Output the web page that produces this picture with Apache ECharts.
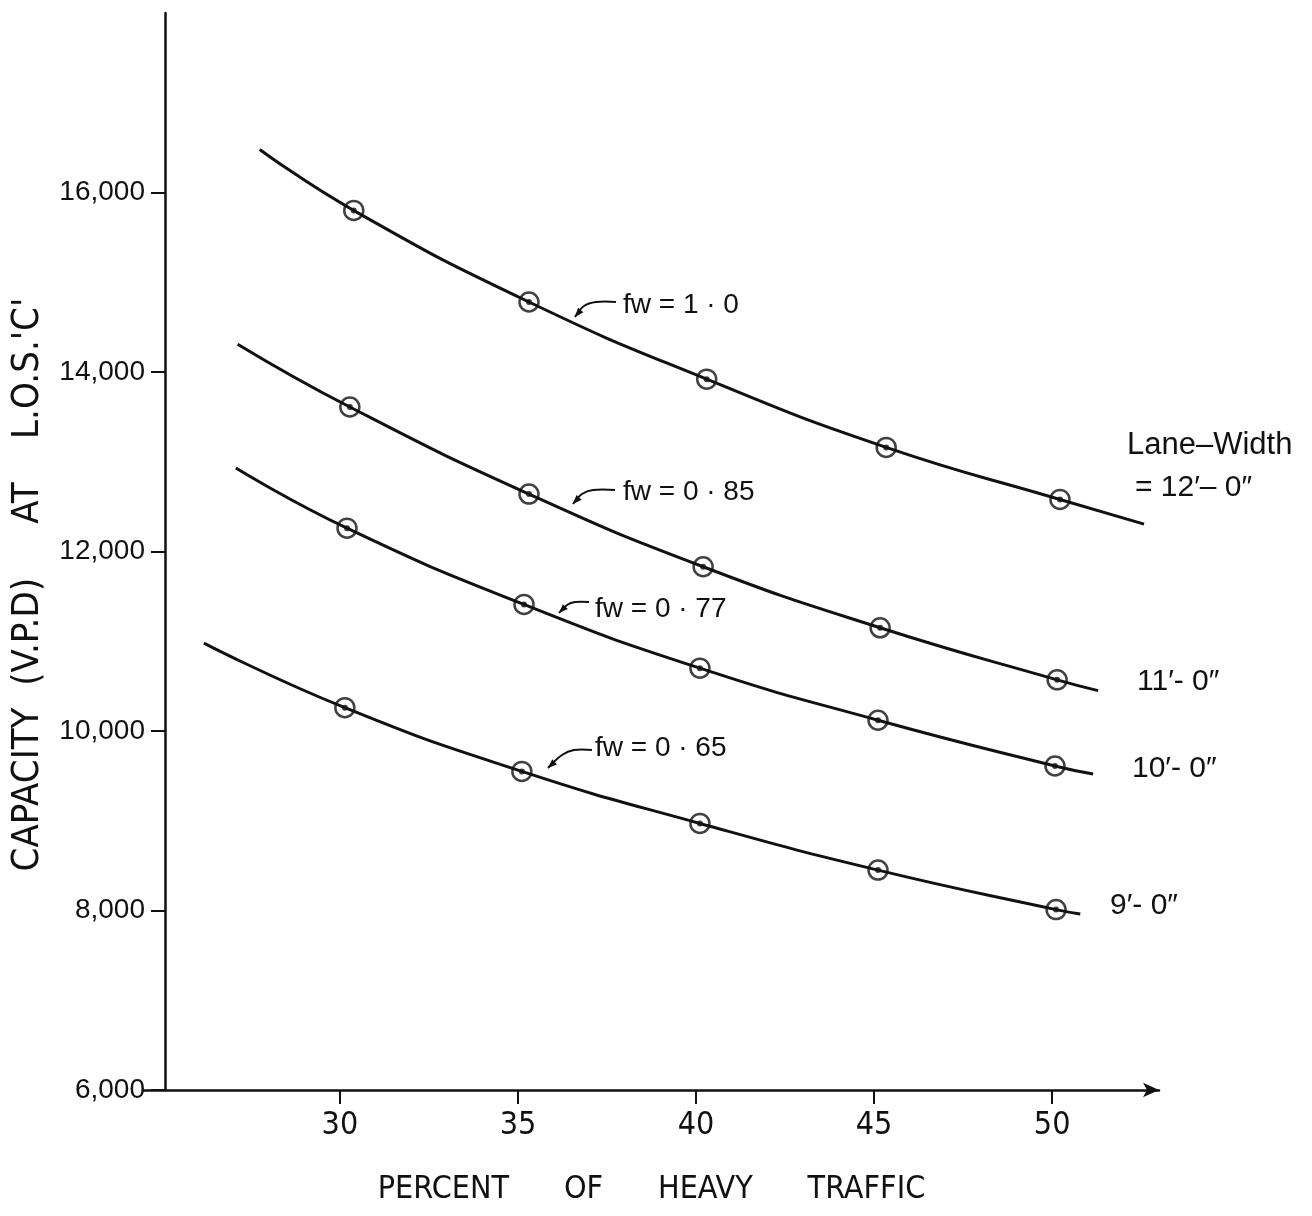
<!DOCTYPE html>
<html>
<head>
<meta charset="utf-8">
<script src="https://cdn.jsdelivr.net/npm/echarts@6/dist/echarts.min.js"></script>
<style>
html, body { margin: 0; padding: 0; background: #fff; }
#main { width: 1312px; height: 1216px; }
</style>
</head>
<body>
<div id="main"></div>
<script>
// percent of heavy traffic / capacity (v.p.d), first and last entry = ends of the drawn curve
var pct100 = [27.75, 30.39, 35.31, 40.30, 45.34, 50.22, 52.58];
var cap100 = [16480, 15800, 14780, 13920, 13160, 12580, 12305];

var pct85  = [27.13, 30.28, 35.31, 40.20, 45.17, 50.14, 51.29];
var cap85  = [14310, 13610, 12640, 11830, 11150, 10570, 10450];

var pct77  = [27.08, 30.20, 35.17, 40.11, 45.11, 50.08, 51.15];
var cap77  = [12930, 12260, 11410, 10700, 10120, 9610, 9520];

var pct65  = [26.18, 30.14, 35.11, 40.11, 45.11, 50.11, 50.79];
var cap65  = [10980, 10260, 9550, 8970, 8450, 8010, 7960];

var xTicks = [30, 35, 40, 45, 50];
var yTicks = [6000, 8000, 10000, 12000, 14000, 16000];

var dom   = document.getElementById("main");
var chart = echarts.init(dom);

var ink    = '#111';
var narrow = "'Liberation Sans Narrow','DejaVu Sans Condensed','Liberation Sans',sans-serif";
var plain  = "'Liberation Sans',Arial,sans-serif";

function pairs(xs, ys) {
    return xs.map(function (x, i) { return [x, ys[i]]; });
}

var curves = [
    {name: 'fw = 1.0',  x: pct100, y: cap100},
    {name: 'fw = 0.85', x: pct85,  y: cap85},
    {name: 'fw = 0.77', x: pct77,  y: cap77},
    {name: 'fw = 0.65', x: pct65,  y: cap65}
];

var series = [];
curves.forEach(function (c) {
    var all = pairs(c.x, c.y);
    var pts = all.slice(1, -1);
    series.push({
        name: c.name, type: 'line', data: all,
        smooth: 0.5, showSymbol: false, silent: true,
        lineStyle: {color: ink, width: 3}, z: 2
    });
    series.push({
        type: 'scatter', data: pts, symbol: 'circle', symbolSize: 19, silent: true,
        itemStyle: {color: 'rgba(0,0,0,0)', borderColor: ink, borderWidth: 2.5}, z: 3
    });
    series.push({
        type: 'scatter', data: pts, symbol: 'circle', symbolSize: 6, silent: true,
        itemStyle: {color: ink}, z: 4
    });
});

// leader line with a small arrow head at its last point
function leader(p) {
    var a = p[p.length - 2], b = p[p.length - 1];
    var dx = b[0] - a[0], dy = b[1] - a[1];
    var len = Math.sqrt(dx * dx + dy * dy);
    dx /= len; dy /= len;
    var bx = b[0] - dx * 9, by = b[1] - dy * 9;
    return [
        {type: 'polyline', shape: {points: p, smooth: 0.4},
         style: {stroke: ink, lineWidth: 2, fill: null}},
        {type: 'polygon', shape: {points: [b, [bx - dy * 3.5, by + dx * 3.5], [bx + dy * 3.5, by - dx * 3.5]]},
         style: {fill: ink}}
    ];
}

function label(text, x, y, size) {
    return {
        type: 'text', x: x, y: y,
        style: {text: text, fill: ink, fontSize: size || 28, fontFamily: plain, verticalAlign: 'middle'}
    };
}

var notes = [].concat(
    leader([[616, 302], [596, 302], [584, 306], [575, 317]]),
    leader([[615, 490], [593, 490], [582, 494], [573, 504]]),
    leader([[589, 602], [575, 602], [567, 605], [559, 613]]),
    leader([[592, 750], [574, 750], [562, 755], [548, 768]]),
    [
        label('fw = 1 · 0', 623, 305),
        label('fw = 0 · 85', 623, 492),
        label('fw = 0 · 77', 595, 609),
        label('fw = 0 · 65', 595, 748),
        label('Lane–Width', 1127, 445, 31),
        label('= 12′– 0″', 1135, 488, 30),
        label('11′- 0″', 1137, 682, 30),
        label('10′- 0″', 1132, 769, 30),
        label('9′- 0″', 1110, 906, 30)
    ]
);

option = {
    backgroundColor: '#fff',
    animation: false,
    grid: {
        left: 144,
        right: 153,
        top: 13,
        bottom: 126
    },
    xAxis: {
        type: 'value',
        min: 24.5,
        max: 53,
        name: 'PERCENT      OF      HEAVY      TRAFFIC',
        nameLocation: 'middle',
        nameGap: 84,
        nameTextStyle: {color: ink, fontSize: 32, fontFamily: narrow},
        axisLine: {
            show: true, onZero: false,
            symbol: ['none', 'arrow'], symbolSize: [11, 16],
            lineStyle: {color: ink, width: 2.5}
        },
        axisTick: {show: true, customValues: xTicks, length: 14, lineStyle: {color: ink, width: 2}},
        axisLabel: {customValues: xTicks, margin: 20, color: ink, fontSize: 32, fontFamily: narrow},
        splitLine: {show: false}
    },
    yAxis: {
        type: 'value',
        min: 6000,
        max: 18000,
        offset: -21,
        name: "CAPACITY  (V.P.D)     AT    L.O.S.'C'",
        nameLocation: 'middle',
        nameGap: 118,
        nameRotate: 90,
        nameTextStyle: {color: ink, fontSize: 38, fontFamily: narrow, padding: [0, 66, 0, 0]},
        axisLine: {show: true, lineStyle: {color: ink, width: 2.5}},
        axisTick: {show: true, customValues: yTicks, length: 14, lineStyle: {color: ink, width: 2}},
        axisLabel: {
            customValues: yTicks, margin: 20, color: ink, fontSize: 28, fontFamily: plain,
            formatter: function (v) { return v.toLocaleString('en-US'); }
        },
        splitLine: {show: false}
    },
    graphic: {elements: notes},
    series: series
};

chart.setOption(option, true);
</script>
</body>
</html>
